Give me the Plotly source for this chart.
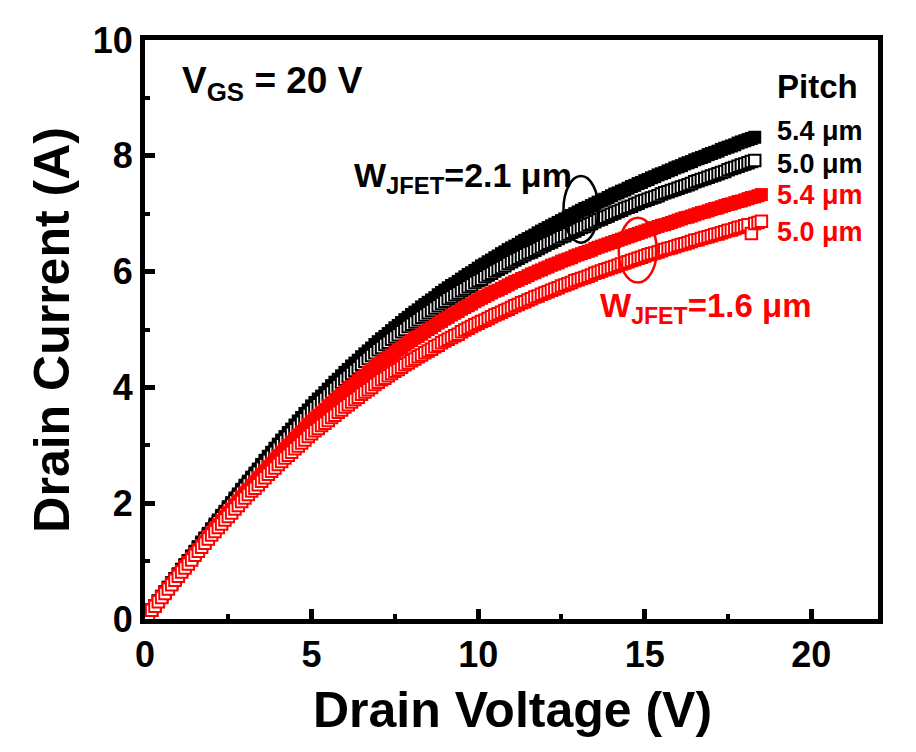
import plotly.graph_objects as go

# Drain voltage sweep (V)
vd = [0.1, 0.2, 0.3, 0.4, 0.5, 0.6, 0.7, 0.8, 0.9, 1.0,
      1.1, 1.2, 1.3, 1.4, 1.5, 1.6, 1.7, 1.8, 1.9, 2.0,
      2.1, 2.2, 2.3, 2.4, 2.5, 2.6, 2.7, 2.8, 2.9, 3.0,
      3.1, 3.2, 3.3, 3.4, 3.5, 3.6, 3.7, 3.8, 3.9, 4.0,
      4.1, 4.2, 4.3, 4.4, 4.5, 4.6, 4.7, 4.8, 4.9, 5.0,
      5.1, 5.2, 5.3, 5.4, 5.5, 5.6, 5.7, 5.8, 5.9, 6.0,
      6.1, 6.2, 6.3, 6.4, 6.5, 6.6, 6.7, 6.8, 6.9, 7.0,
      7.1, 7.2, 7.3, 7.4, 7.5, 7.6, 7.7, 7.8, 7.9, 8.0,
      8.1, 8.2, 8.3, 8.4, 8.5, 8.6, 8.7, 8.8, 8.9, 9.0,
      9.1, 9.2, 9.3, 9.4, 9.5, 9.6, 9.7, 9.8, 9.9, 10.0,
      10.1, 10.2, 10.3, 10.4, 10.5, 10.6, 10.7, 10.8, 10.9, 11.0,
      11.1, 11.2, 11.3, 11.4, 11.5, 11.6, 11.7, 11.8, 11.9, 12.0,
      12.1, 12.2, 12.3, 12.4, 12.5, 12.6, 12.7, 12.8, 12.9, 13.0,
      13.1, 13.2, 13.3, 13.4, 13.5, 13.6, 13.7, 13.8, 13.9, 14.0,
      14.1, 14.2, 14.3, 14.4, 14.5, 14.6, 14.7, 14.8, 14.9, 15.0,
      15.1, 15.2, 15.3, 15.4, 15.5, 15.6, 15.7, 15.8, 15.9, 16.0,
      16.1, 16.2, 16.3, 16.4, 16.5, 16.6, 16.7, 16.8, 16.9, 17.0,
      17.1, 17.2, 17.3, 17.4, 17.5, 17.6, 17.7, 17.8, 17.9, 18.0,
      18.1, 18.2, 18.3, 18.4, 18.5]

# W_JFET = 2.1 um, pitch 5.4 um (black filled)
id_w21_p54 = [0.08, 0.16, 0.23, 0.31, 0.39, 0.47, 0.55, 0.62, 0.70, 0.78,
              0.86, 0.94, 1.01, 1.09, 1.17, 1.25, 1.33, 1.40, 1.48, 1.56,
              1.64, 1.71, 1.79, 1.86, 1.94, 2.01, 2.09, 2.16, 2.24, 2.31,
              2.38, 2.45, 2.52, 2.59, 2.67, 2.74, 2.81, 2.88, 2.95, 3.02,
              3.09, 3.15, 3.22, 3.28, 3.35, 3.42, 3.48, 3.55, 3.61, 3.68,
              3.74, 3.80, 3.85, 3.91, 3.97, 4.03, 4.09, 4.14, 4.20, 4.26,
              4.31, 4.37, 4.42, 4.47, 4.53, 4.58, 4.63, 4.68, 4.74, 4.79,
              4.84, 4.88, 4.93, 4.98, 5.03, 5.07, 5.12, 5.17, 5.21, 5.26,
              5.30, 5.34, 5.39, 5.43, 5.47, 5.51, 5.55, 5.60, 5.64, 5.68,
              5.72, 5.76, 5.79, 5.83, 5.87, 5.91, 5.95, 5.98, 6.02, 6.06,
              6.10, 6.13, 6.17, 6.20, 6.24, 6.27, 6.31, 6.34, 6.38, 6.41,
              6.44, 6.47, 6.51, 6.54, 6.57, 6.60, 6.63, 6.67, 6.70, 6.73,
              6.76, 6.79, 6.82, 6.85, 6.88, 6.91, 6.94, 6.97, 7.00, 7.03,
              7.06, 7.09, 7.11, 7.14, 7.17, 7.20, 7.23, 7.25, 7.28, 7.31,
              7.34, 7.36, 7.39, 7.41, 7.44, 7.47, 7.49, 7.52, 7.54, 7.57,
              7.59, 7.62, 7.64, 7.67, 7.69, 7.71, 7.74, 7.76, 7.79, 7.81,
              7.83, 7.86, 7.88, 7.90, 7.93, 7.95, 7.97, 7.99, 8.02, 8.04,
              8.06, 8.08, 8.11, 8.13, 8.15, 8.17, 8.19, 8.22, 8.24, 8.26,
              8.28, 8.30, 8.32]

# W_JFET = 2.1 um, pitch 5.0 um (black open)
id_w21_p50 = [0.08, 0.15, 0.23, 0.31, 0.39, 0.46, 0.54, 0.62, 0.69, 0.77,
              0.85, 0.92, 1.00, 1.07, 1.15, 1.23, 1.30, 1.38, 1.45, 1.53,
              1.60, 1.68, 1.75, 1.82, 1.90, 1.97, 2.04, 2.11, 2.19, 2.26,
              2.33, 2.40, 2.47, 2.54, 2.61, 2.67, 2.74, 2.81, 2.88, 2.95,
              3.01, 3.08, 3.14, 3.21, 3.27, 3.33, 3.40, 3.46, 3.53, 3.59,
              3.65, 3.70, 3.76, 3.81, 3.87, 3.92, 3.98, 4.03, 4.09, 4.14,
              4.19, 4.24, 4.29, 4.34, 4.40, 4.45, 4.50, 4.55, 4.60, 4.65,
              4.69, 4.74, 4.78, 4.83, 4.87, 4.91, 4.96, 5.00, 5.05, 5.09,
              5.13, 5.17, 5.21, 5.25, 5.29, 5.33, 5.37, 5.41, 5.45, 5.49,
              5.53, 5.56, 5.60, 5.63, 5.67, 5.70, 5.74, 5.77, 5.81, 5.84,
              5.87, 5.91, 5.94, 5.97, 6.01, 6.04, 6.07, 6.10, 6.14, 6.17,
              6.20, 6.23, 6.26, 6.29, 6.32, 6.34, 6.37, 6.40, 6.43, 6.46,
              6.49, 6.51, 6.54, 6.57, 6.60, 6.62, 6.65, 6.68, 6.70, 6.73,
              6.76, 6.78, 6.81, 6.83, 6.86, 6.89, 6.91, 6.94, 6.96, 6.99,
              7.01, 7.04, 7.06, 7.09, 7.11, 7.13, 7.16, 7.18, 7.21, 7.23,
              7.25, 7.27, 7.29, 7.31, 7.34, 7.36, 7.38, 7.40, 7.42, 7.44,
              7.46, 7.48, 7.50, 7.52, 7.55, 7.57, 7.59, 7.61, 7.63, 7.65,
              7.67, 7.69, 7.71, 7.73, 7.76, 7.78, 7.80, 7.82, 7.84, 7.86,
              7.88, 7.90, 7.92]

# W_JFET = 1.6 um, pitch 5.4 um (red filled)
id_w16_p54 = [0.08, 0.15, 0.23, 0.30, 0.38, 0.46, 0.53, 0.61, 0.68, 0.76,
              0.83, 0.91, 0.98, 1.05, 1.13, 1.20, 1.27, 1.34, 1.42, 1.49,
              1.56, 1.63, 1.70, 1.77, 1.84, 1.90, 1.97, 2.04, 2.11, 2.18,
              2.24, 2.31, 2.37, 2.44, 2.50, 2.56, 2.63, 2.69, 2.76, 2.82,
              2.88, 2.94, 3.00, 3.06, 3.12, 3.18, 3.24, 3.30, 3.36, 3.42,
              3.47, 3.52, 3.57, 3.62, 3.68, 3.73, 3.78, 3.83, 3.88, 3.93,
              3.98, 4.02, 4.07, 4.12, 4.17, 4.21, 4.26, 4.31, 4.35, 4.40,
              4.44, 4.48, 4.52, 4.56, 4.61, 4.65, 4.69, 4.73, 4.77, 4.81,
              4.85, 4.88, 4.92, 4.96, 5.00, 5.03, 5.07, 5.11, 5.14, 5.18,
              5.21, 5.25, 5.28, 5.31, 5.35, 5.38, 5.41, 5.44, 5.48, 5.51,
              5.54, 5.57, 5.60, 5.63, 5.66, 5.68, 5.71, 5.74, 5.77, 5.80,
              5.83, 5.85, 5.88, 5.90, 5.93, 5.96, 5.98, 6.01, 6.03, 6.06,
              6.08, 6.11, 6.13, 6.15, 6.18, 6.20, 6.22, 6.24, 6.27, 6.29,
              6.31, 6.33, 6.35, 6.37, 6.40, 6.42, 6.44, 6.46, 6.48, 6.50,
              6.52, 6.54, 6.56, 6.58, 6.60, 6.62, 6.64, 6.66, 6.68, 6.70,
              6.72, 6.74, 6.76, 6.78, 6.80, 6.81, 6.83, 6.85, 6.87, 6.89,
              6.91, 6.93, 6.94, 6.96, 6.98, 7.00, 7.02, 7.03, 7.05, 7.07,
              7.09, 7.10, 7.12, 7.14, 7.16, 7.17, 7.19, 7.21, 7.22, 7.24,
              7.26, 7.28, 7.29, 7.31, 7.33]

# W_JFET = 1.6 um, pitch 5.0 um (red open)
id_w16_p50 = [0.07, 0.15, 0.22, 0.30, 0.37, 0.44, 0.52, 0.59, 0.67, 0.74,
              0.81, 0.88, 0.95, 1.02, 1.10, 1.17, 1.24, 1.31, 1.38, 1.45,
              1.51, 1.58, 1.64, 1.71, 1.77, 1.83, 1.90, 1.96, 2.03, 2.09,
              2.15, 2.21, 2.26, 2.32, 2.38, 2.44, 2.50, 2.55, 2.61, 2.67,
              2.72, 2.78, 2.83, 2.88, 2.94, 2.99, 3.04, 3.09, 3.15, 3.20,
              3.25, 3.29, 3.34, 3.38, 3.43, 3.48, 3.52, 3.57, 3.61, 3.66,
              3.70, 3.75, 3.79, 3.83, 3.88, 3.92, 3.96, 4.00, 4.05, 4.09,
              4.13, 4.16, 4.20, 4.24, 4.28, 4.31, 4.35, 4.39, 4.42, 4.46,
              4.49, 4.53, 4.56, 4.60, 4.63, 4.66, 4.70, 4.73, 4.77, 4.80,
              4.83, 4.86, 4.89, 4.92, 4.96, 4.99, 5.02, 5.05, 5.08, 5.11,
              5.14, 5.16, 5.19, 5.22, 5.25, 5.27, 5.30, 5.33, 5.35, 5.38,
              5.41, 5.43, 5.46, 5.48, 5.51, 5.53, 5.56, 5.58, 5.61, 5.63,
              5.65, 5.68, 5.70, 5.72, 5.75, 5.77, 5.79, 5.81, 5.84, 5.86,
              5.88, 5.90, 5.92, 5.94, 5.97, 5.99, 6.01, 6.03, 6.05, 6.07,
              6.09, 6.11, 6.13, 6.15, 6.17, 6.19, 6.21, 6.23, 6.25, 6.27,
              6.29, 6.31, 6.32, 6.34, 6.36, 6.38, 6.40, 6.41, 6.43, 6.45,
              6.47, 6.48, 6.50, 6.52, 6.54, 6.55, 6.57, 6.59, 6.60, 6.62,
              6.64, 6.65, 6.67, 6.69, 6.71, 6.72, 6.74, 6.76, 6.77, 6.79,
              6.81, 6.66, 6.83, 6.85, 6.87]

x_ticks = [0, 5, 10, 15, 20]
y_ticks = [0, 2, 4, 6, 8, 10]

FONT = "Liberation Sans, Arial, sans-serif"
BLACK = "#000000"
RED = "#ff0000"

series = [
    (id_w21_p54, BLACK, True),
    (id_w21_p50, BLACK, False),
    (id_w16_p54, RED, True),
    (id_w16_p50, RED, False),
]

fig = go.Figure()
for ys, col, filled in series:
    xs = vd[:len(ys)]
    if filled:
        marker = dict(symbol="square", size=13, color=col, line=dict(width=0))
    else:
        marker = dict(symbol="square", size=11.5, color="white",
                      line=dict(width=2, color=col))
    fig.add_trace(go.Scatter(x=xs, y=ys, mode="markers", marker=marker,
                             showlegend=False, hoverinfo="skip"))

axis_common = dict(
    showgrid=False, zeroline=False, showline=True, linecolor="black",
    linewidth=5, mirror=True, ticks="inside", ticklen=10, tickwidth=5,
    tickcolor="black",
    tickfont=dict(family=FONT, size=36, color="black", weight="bold"),
)

fig.update_xaxes(range=[0, 22], tickvals=x_ticks,
                 minor=dict(ticks="inside", ticklen=5, tickwidth=4,
                            tickcolor="black", dtick=2.5, tick0=0),
                 **axis_common)
fig.update_yaxes(range=[0, 10], tickvals=y_ticks,
                 minor=dict(ticks="inside", ticklen=5, tickwidth=4,
                            tickcolor="black", dtick=1, tick0=0),
                 **axis_common)

def txt(x, y, s, size, color="black", xanchor="left", xref="x", yref="y", angle=0):
    fig.add_annotation(x=x, y=y, xref=xref, yref=yref, text=s, showarrow=False,
                       xanchor=xanchor, yanchor="middle", textangle=angle,
                       font=dict(family=FONT, size=size, color=color, weight="bold"))

txt(0.5007, -0.158, "Drain Voltage (V)", 50, xanchor="center", xref="paper", yref="paper")
txt(-0.128, 0.5, "Drain Current (A)", 50, xanchor="center", xref="paper", yref="paper", angle=-90)

txt(1.04, 9.26, "V<sub>GS</sub> = 20 V", 37)
txt(18.9, 9.19, "Pitch", 33)
txt(18.91, 8.43, "5.4 μm", 27, BLACK)
txt(18.91, 7.86, "5.0 μm", 27, BLACK)
txt(18.91, 7.33, "5.4 μm", 27, RED)
txt(18.91, 6.68, "5.0 μm", 27, RED)
txt(6.2, 7.63, "W<sub>JFET</sub>=2.1 μm", 34)
txt(13.6, 5.37, "W<sub>JFET</sub>=1.6 μm", 33, RED)

fig.add_shape(type="circle", xref="x", yref="y", x0=12.56, x1=13.61, y0=6.5, y1=7.65,
              line=dict(color=BLACK, width=2.5))
fig.add_shape(type="circle", xref="x", yref="y", x0=14.22, x1=15.36, y0=5.81, y1=6.93,
              line=dict(color=RED, width=2.5))

fig.update_layout(
    width=916, height=752,
    margin=dict(l=137, r=46, t=27, b=141),
    paper_bgcolor="white", plot_bgcolor="white",
)

fig.write_html("out.html")
